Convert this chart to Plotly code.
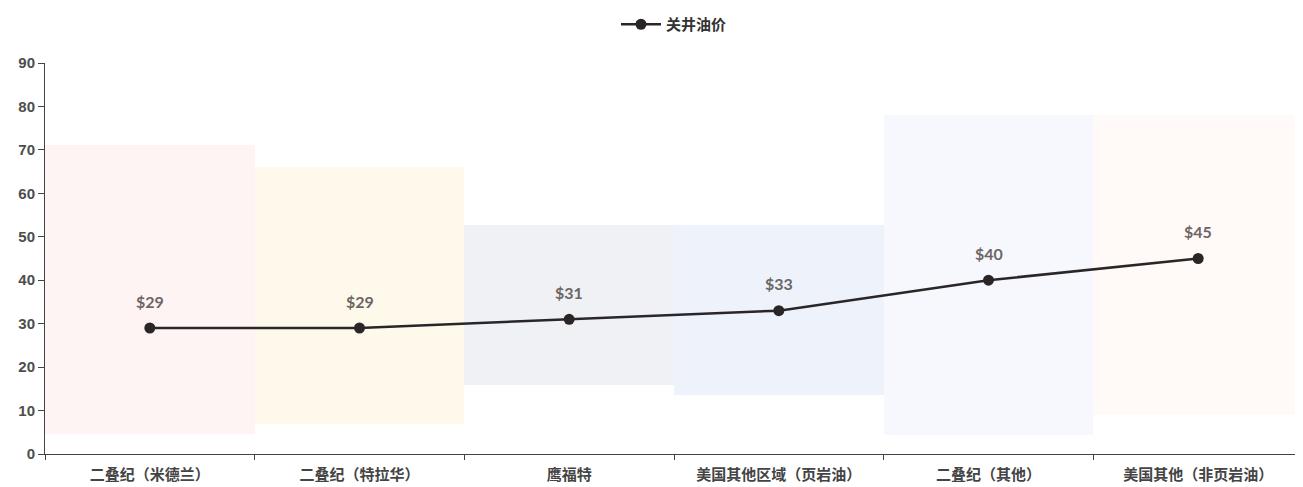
import plotly.graph_objects as go

categories = ["二叠纪（米德兰）", "二叠纪（特拉华）", "鹰福特", "美国其他区域（页岩油）", "二叠纪（其他）", "美国其他（非页岩油）"]
price = [29, 29, 31, 33, 40, 45]
range_low = [4.5, 7.0, 15.8, 13.5, 4.3, 8.9]
range_high = [71.2, 66.0, 52.8, 52.8, 78.0, 78.0]
band_colors = ["#FFF4F4", "#FFF9EC", "#EFF1F5", "#EEF2FA", "#F6F8FD", "#FFFAF7"]
labels = ["$%d" % v for v in price]
series_name = "关井油价"

fig = go.Figure()
fig.add_trace(go.Bar(
    x=categories,
    y=[h - l for h, l in zip(range_high, range_low)],
    base=range_low,
    marker=dict(color=band_colors, line=dict(width=0)),
    width=1.0,
    showlegend=False,
    hoverinfo="skip",
))
fig.add_trace(go.Scatter(
    x=categories, y=price, name=series_name,
    mode="lines+markers",
    line=dict(color="#2a2628", width=2.5),
    marker=dict(size=11, color="#2a2628"),
))
for c, v, t in zip(categories, price, labels):
    fig.add_annotation(x=c, y=v, text=t, showarrow=False, yshift=27,
                       font=dict(family="Lato", size=16, color="#6b6664", weight="bold"))

# the page body has an 8px default margin, so the figure is sized to fit the window
fig.update_layout(
    width=1295, height=479,
    margin=dict(l=37, r=0, t=52, b=33),
    plot_bgcolor="white", paper_bgcolor="white",
    bargap=0,
    showlegend=True,
    legend=dict(orientation="h", x=0.5, xanchor="center", y=1.099, yanchor="middle",
                yref="paper", itemwidth=40,
                font=dict(family="Noto Sans CJK SC", size=15, color="#333", weight="bold")),
    font=dict(family="Noto Sans CJK SC"),
)
fig.update_yaxes(range=[0, 90], dtick=10, showgrid=False, zeroline=False, automargin=False,
                 showline=True, linecolor="#444", linewidth=1,
                 ticks="outside", ticklen=6, tickcolor="#444",
                 tickfont=dict(family="Liberation Sans", size=15, color="#4d4d4d", weight="bold"))
fig.update_xaxes(showgrid=False, showline=True, linecolor="#444", linewidth=1, automargin=False,
                 ticks="outside", ticklen=5, tickcolor="#444", tickson="boundaries",
                 ticklabelstandoff=7,
                 tickfont=dict(family="Noto Sans CJK SC", size=15, color="#444", weight="bold"))

fig.write_html("out.html")
